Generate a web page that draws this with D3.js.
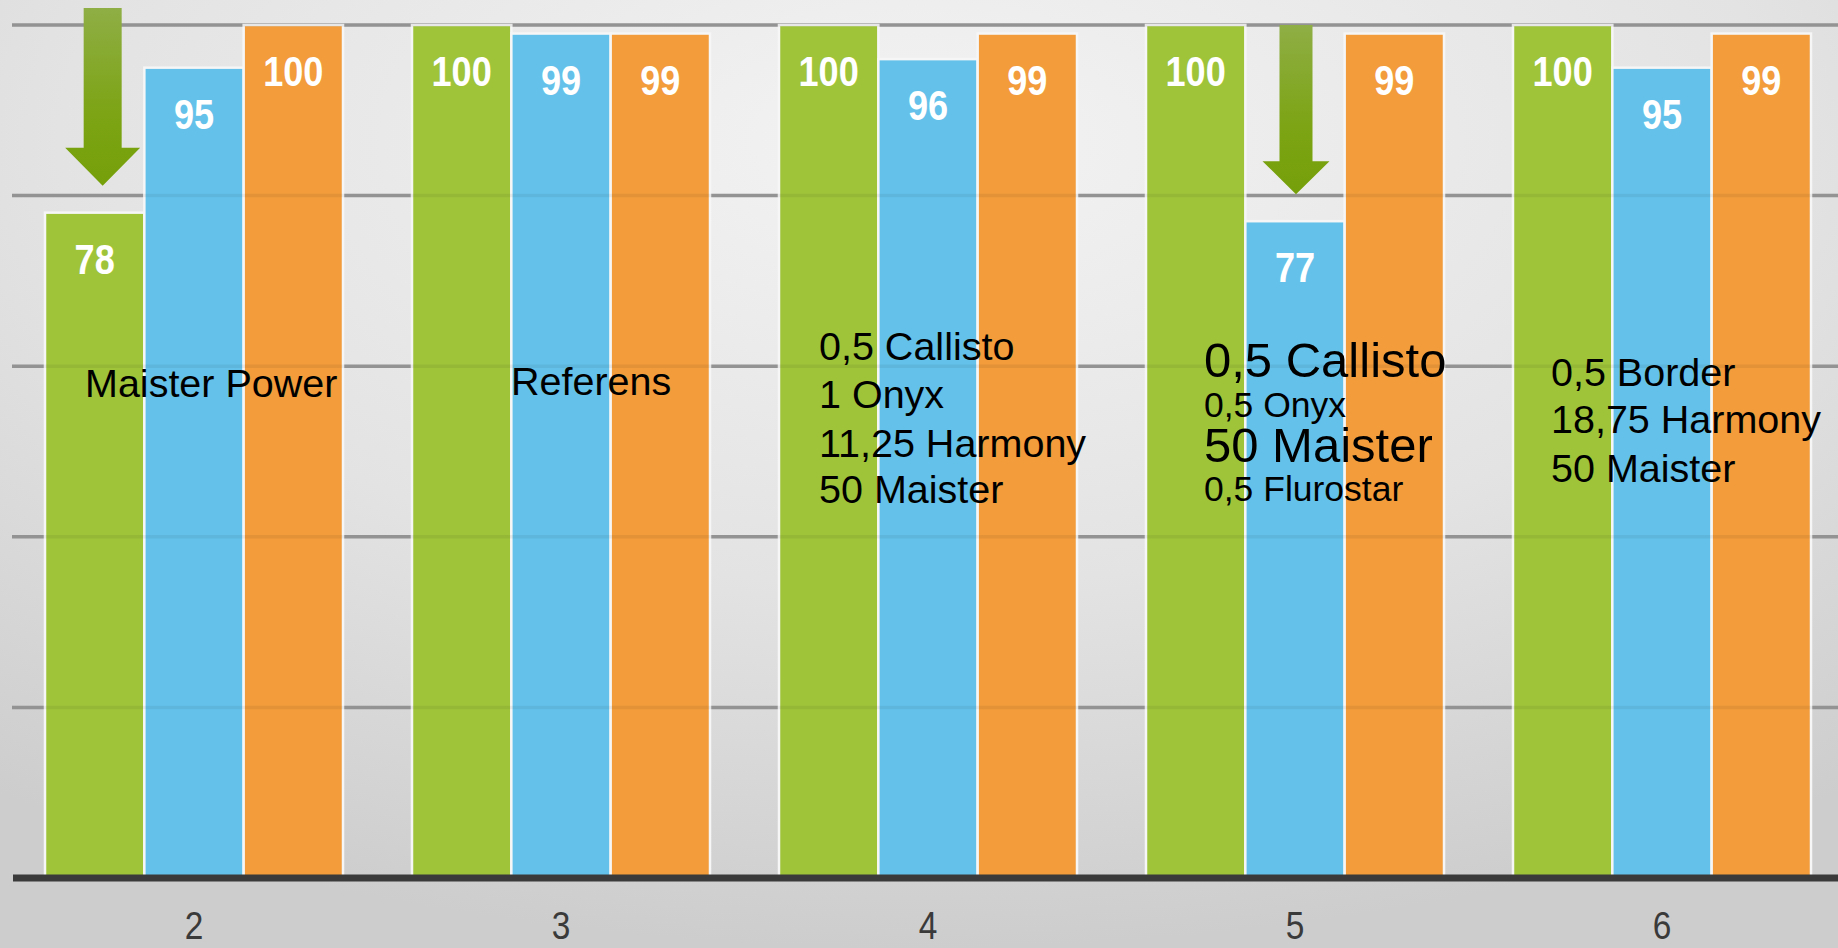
<!DOCTYPE html>
<html>
<head>
<meta charset="utf-8">
<script src="https://cdnjs.cloudflare.com/ajax/libs/d3/7.8.5/d3.min.js"></script>
<style>
  body { margin: 0; overflow: hidden; }
  svg { display: block; }
</style>
</head>
<body>
<script>
// data
var groups = ["2", "3", "4", "5", "6"];
var series = ["green", "blue", "orange"];
var greenValues = [78, 100, 100, 100, 100];
var blueValues = [95, 99, 96, 77, 95];
var orangeValues = [100, 99, 99, 99, 99];
var yTicks = [20, 40, 60, 80, 100];

var notes2 = ["Maister Power"];
var notes3 = ["Referens"];
var notes4 = ["0,5 Callisto", "1 Onyx", "11,25 Harmony", "50 Maister"];
var notes5 = ["0,5 Callisto", "0,5 Onyx", "50 Maister", "0,5 Flurostar"];
var notes6 = ["0,5 Border", "18,75 Harmony", "50 Maister"];

// arrows point at these bars
var arrowGroups = ["2", "5"];
var arrowSeries = ["green", "blue"];

var width = 1838, height = 948;

var colors = { green: "#9fc43a", blue: "#64c2ea", orange: "#f29c3b" };

var data = groups.map(function(g, i) {
    return { group: g, green: greenValues[i], blue: blueValues[i], orange: orangeValues[i] };
});

var x0 = d3.scaleBand().domain(groups).range([45, 1811]).paddingInner(0.188).paddingOuter(0);
var x1 = d3.scaleBand().domain(series).range([0, x0.bandwidth()]).padding(0);
var y = d3.scaleLinear().domain([0, 100]).range([878, 25]);

var svg = d3.select("body").append("svg")
    .attr("width", width)
    .attr("height", height);

var defs = svg.append("defs");
var bg = defs.append("radialGradient").attr("id", "bg")
    .attr("cx", "50%").attr("cy", "15%").attr("r", "85%");
bg.append("stop").attr("offset", "0%").attr("stop-color", "#f3f3f3");
bg.append("stop").attr("offset", "55%").attr("stop-color", "#e3e3e3");
bg.append("stop").attr("offset", "100%").attr("stop-color", "#cdcdcd");

var ag = defs.append("linearGradient").attr("id", "arrowGrad")
    .attr("x1", 0).attr("y1", 0).attr("x2", 0).attr("y2", 1);
ag.append("stop").attr("offset", "0%").attr("stop-color", "#8fae45");
ag.append("stop").attr("offset", "60%").attr("stop-color", "#7ca414");
ag.append("stop").attr("offset", "100%").attr("stop-color", "#76a00a");

svg.append("rect")
    .attr("width", width)
    .attr("height", height)
    .style("fill", "url(#bg)");

// grid lines
svg.append("g").attr("class", "grid")
    .selectAll("line")
    .data(yTicks)
    .enter().append("line")
    .attr("x1", 12)
    .attr("x2", width)
    .attr("y1", function(d) { return y(d); })
    .attr("y2", function(d) { return y(d); })
    .style("stroke", "#9d9d9d")
    .style("stroke-width", 3.5);

// bars
var groupsG = svg.append("g").selectAll(".group")
    .data(data)
    .enter().append("g")
    .attr("class", "group")
    .attr("transform", function(d) { return "translate(" + x0(d.group) + ",0)"; });

groupsG.selectAll("rect")
    .data(function(d) { return series.map(function(s) { return { key: s, value: d[s] }; }); })
    .enter().append("rect")
    .attr("x", function(d) { return x1(d.key); })
    .attr("width", x1.bandwidth())
    .attr("y", function(d) { return y(d.value); })
    .attr("height", function(d) { return y(0) - y(d.value); })
    .style("fill", function(d) { return colors[d.key]; })
    .style("stroke", "#f6f6f6")
    .style("stroke-width", 2.5);

// faint grid showing through the bars
svg.append("g")
    .selectAll("line")
    .data(yTicks)
    .enter().append("line")
    .attr("x1", 12)
    .attr("x2", width)
    .attr("y1", function(d) { return y(d); })
    .attr("y2", function(d) { return y(d); })
    .style("stroke", "rgba(0,0,0,0.06)")
    .style("stroke-width", 3.5);

// value labels (squeezed a bit to look condensed)
groupsG.selectAll(".value")
    .data(function(d) { return series.map(function(s) { return { key: s, value: d[s] }; }); })
    .enter().append("text")
    .attr("class", "value")
    .attr("transform", function(d) {
        return "translate(" + (x1(d.key) + x1.bandwidth() / 2) + "," + (y(d.value) + 61) + ") scale(0.86,1)";
    })
    .attr("text-anchor", "middle")
    .style("font-family", "Arial, 'Liberation Sans', sans-serif")
    .style("font-weight", "bold")
    .style("font-size", "42px")
    .style("fill", "#ffffff")
    .text(function(d) { return d.value; });

// baseline
svg.append("line")
    .attr("x1", 13)
    .attr("x2", width)
    .attr("y1", y(0))
    .attr("y2", y(0))
    .style("stroke", "#3a3a3a")
    .style("stroke-width", 7);

// x axis labels
var xAxis = d3.axisBottom(x0).tickSize(0);
var axisG = svg.append("g")
    .attr("transform", "translate(0," + y(0) + ")")
    .call(xAxis);
axisG.select(".domain").remove();
axisG.selectAll(".tick text")
    .attr("y", 0)
    .attr("dy", 0)
    .attr("transform", "translate(0,61) scale(0.88,1)")
    .style("font-family", "Arial, 'Liberation Sans', sans-serif")
    .style("font-size", "38px")
    .style("fill", "#3a3a3a");

// arrows
var arrowSize = [
    { dx: 8, top: 8, shaft: 38, head: 75, headH: 38 },
    { dx: 1, top: 25, shaft: 33, head: 67, headH: 33 }
];
arrowGroups.forEach(function(g, i) {
    var d = data[groups.indexOf(g)];
    var s = arrowSize[i];
    var cx = x0(g) + x1(arrowSeries[i]) + x1.bandwidth() / 2 + s.dx;
    var tip = y(d[arrowSeries[i]]) - 27;
    var neck = tip - s.headH;
    var p = d3.path();
    p.moveTo(cx - s.shaft / 2, s.top);
    p.lineTo(cx + s.shaft / 2, s.top);
    p.lineTo(cx + s.shaft / 2, neck);
    p.lineTo(cx + s.head / 2, neck);
    p.lineTo(cx, tip);
    p.lineTo(cx - s.head / 2, neck);
    p.lineTo(cx - s.shaft / 2, neck);
    p.closePath();
    svg.append("path")
        .attr("d", p.toString())
        .style("fill", "url(#arrowGrad)");
});

// text notes on the groups
var noteBlocks = [
    { group: "2", lines: notes2, dx: 40, ys: [397], sizes: [39.5] },
    { group: "3", lines: notes3, dx: 99, ys: [395], sizes: [39.5] },
    { group: "4", lines: notes4, dx: 40, ys: [360, 408, 457, 503], sizes: [39.5, 39.5, 39.5, 39.5] },
    { group: "5", lines: notes5, dx: 58, ys: [377, 417, 462, 501], sizes: [49, 35.5, 49, 35.5] },
    { group: "6", lines: notes6, dx: 38, ys: [386, 433, 482], sizes: [39.5, 39.5, 39.5] }
];
noteBlocks.forEach(function(b) {
    var g = svg.append("g").attr("class", "note");
    b.lines.forEach(function(line, i) {
        g.append("text")
            .attr("x", x0(b.group) + b.dx)
            .attr("y", b.ys[i])
            .style("font-family", "Arial, 'Liberation Sans', sans-serif")
            .style("font-size", b.sizes[i] + "px")
            .style("fill", "#000000")
            .text(line);
    });
});
</script>
</body>
</html>
